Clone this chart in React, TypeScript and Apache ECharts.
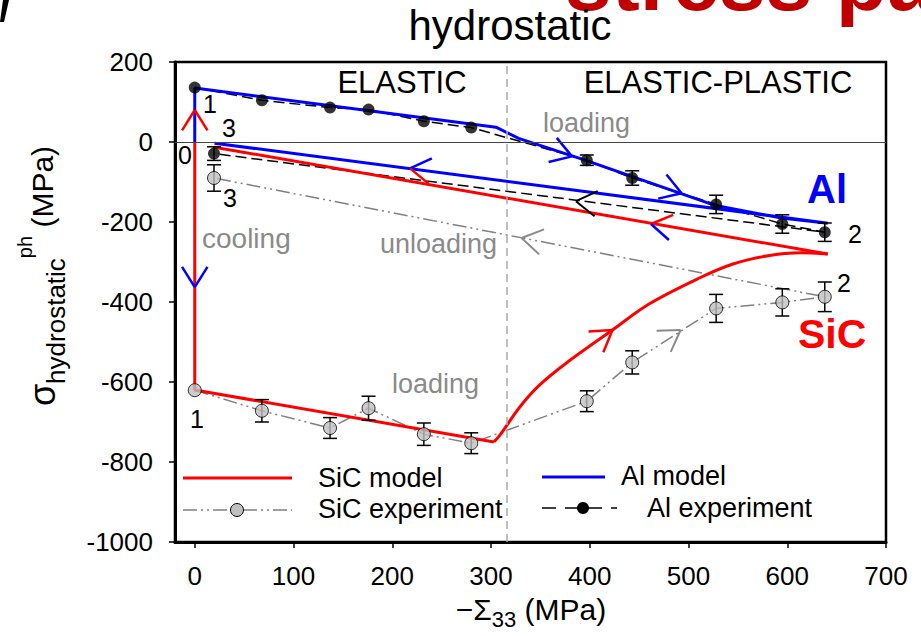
import React, { useEffect, useRef } from 'react';
import * as echarts from 'echarts';

const FONT = '"Liberation Sans", Arial, Helvetica, sans-serif';

// ---- axes ----
const xTicks = [0, 100, 200, 300, 400, 500, 600, 700];
const yTicks = [-1000, -800, -600, -400, -200, 0, 200];
const elasticLimitX = 316;

// ---- experiments (loading 1 -> 2, then unloading to 3) ----
const expX = [0, 68, 137, 176, 232, 280, 397, 443, 528, 595, 638, 19.5];
const alExpY = [136, 104.5, 86, 81, 52, 36, -45.5, -90, -156, -205, -225.5, -29];
const alExpErr = [0, 0, 0, 0, 0, 0, 13, 18, 23, 23, 23, 17];
const sicExpY = [-620.5, -672, -715, -665.5, -730.5, -753, -648, -551, -416, -401, -387, -90];
const sicExpErr = [0, 28, 26, 30, 28, 26, 26, 29, 35, 34, 37, 33];

// ---- models (cooling 0 -> 1, loading 1 -> 2, unloading 2 -> 3) ----
const alModelX = [0, 0, 305, 328, 396, 526, 594, 641, 20];
const alModelY = [0, 135, 37, 9, -46, -158, -190, -203, -3];
// SiC model: cooling + elastic loading
const sicModelX = [0, 0, 303];
const sicModelY = [0, -620, -750];
// SiC model: elastic-plastic loading (curved)
const sicPlasticX = [303, 309, 329, 349, 376, 423, 460, 511, 545, 579, 613, 641];
const sicPlasticY = [-750, -733, -663, -608, -553, -470, -405, -340, -305, -285, -277, -280];
// SiC model: unloading
const sicUnloadX = [641, 20];
const sicUnloadY = [-280, -13];

// ---- path direction arrows: apex and a point behind it on the path ----
const arrowApex = [[0, 80], [0, -363], [382, -36], [493, -128], [218, -66], [462, -205], [386, -148], [331, -240], [492, -470], [423, -470]];
const arrowFrom = [[0, 0], [0, -200], [328, 9], [396, -46], [641, -203], [641, -280], [638, -225.5], [638, -387], [443, -551], [376, -553]];

const RED = '#ff0000';
const BLUE = '#0000ff';
const GRAY = '#8a8a8a';
const arrowColors = [
  [RED, RED], [BLUE, BLUE], [BLUE, BLUE], [BLUE, BLUE], [BLUE, RED],
  [RED, BLUE], ['#000', '#000'], [GRAY, GRAY], [GRAY, GRAY], [RED, RED],
];

function txt(text: string, x: number, y: number, fontSize: number, fill: string, align = 'left', bold = false) {
  return {
    type: 'text', x, y, silent: true, z: 100,
    style: {
      text, fontSize, fontFamily: FONT, fill, fontWeight: bold ? 'bold' : 'normal',
      align, textAlign: align, verticalAlign: 'middle', textVerticalAlign: 'middle',
    },
  };
}

export default function App() {
  const ref = useRef<HTMLDivElement>(null);
  useEffect(() => {
    if (!ref.current) return;
    const chart = echarts.init(ref.current, null, { renderer: 'svg' });

    const pair = (xs: number[], ys: number[]) => xs.map((x, i) => [x, ys[i]]);
    const errData = [
      ...expX.map((x, i) => [x, alExpY[i], alExpErr[i]]),
      ...expX.map((x, i) => [x, sicExpY[i], sicExpErr[i]]),
    ];
    const arrowData = arrowApex.map((p, i) => [p[0], p[1], arrowFrom[i][0], arrowFrom[i][1]]);
    const redLine = { color: RED, width: 3 };

    const option: any = {
      animation: false,
      backgroundColor: '#ffffff',
      grid: { left: 175, top: 62, width: 711, height: 480, show: true, borderColor: '#000', borderWidth: 2.5, backgroundColor: 'transparent' },
      xAxis: {
        type: 'value', min: -20, max: 700,
        axisLine: { onZero: false, lineStyle: { color: '#000', width: 3 } },
        axisTick: { show: true, customValues: xTicks, length: 6, lineStyle: { color: '#000', width: 1.5 } },
        axisLabel: { customValues: xTicks, margin: 21, fontSize: 26, color: '#000', fontFamily: FONT, formatter: (v: number) => String(v) },
        splitLine: { show: false },
      },
      yAxis: {
        type: 'value', min: -1000, max: 200, interval: 200,
        axisLine: { onZero: false, lineStyle: { color: '#000', width: 3 } },
        axisTick: { show: true, customValues: yTicks, length: 6, lineStyle: { color: '#000', width: 1.5 } },
        axisLabel: { customValues: yTicks, margin: 22, fontSize: 26, color: '#000', fontFamily: FONT, formatter: (v: number) => String(v) },
        splitLine: { show: false },
      },
      series: [
        {
          name: 'SiC experiment', type: 'line', z: 2, data: pair(expX, sicExpY), symbol: 'none',
          lineStyle: { color: '#808080', width: 1.5, type: [14, 4, 2, 4, 2, 4] },
          markLine: {
            silent: true, symbol: ['none', 'none'], label: { show: false },
            data: [
              { yAxis: 0, lineStyle: { color: '#444', width: 1, type: 'solid' } },
              { xAxis: elasticLimitX, lineStyle: { color: '#aaaaaa', width: 1.5, type: [8, 5] } },
            ],
          },
        },
        {
          name: 'Al experiment', type: 'line', z: 2, data: pair(expX, alExpY), symbol: 'none',
          lineStyle: { color: '#000', width: 1.5, type: [11, 5] },
        },
        { name: 'SiC model', type: 'line', z: 3, data: pair(sicModelX, sicModelY), symbol: 'none', lineStyle: redLine },
        { name: 'SiC model', type: 'line', z: 3, data: pair(sicPlasticX, sicPlasticY), symbol: 'none', smooth: 0.35, lineStyle: redLine },
        { name: 'SiC model', type: 'line', z: 3, data: pair(sicUnloadX, sicUnloadY), symbol: 'none', lineStyle: redLine },
        {
          name: 'Al model', type: 'line', z: 3, data: pair(alModelX, alModelY), symbol: 'none',
          lineStyle: { color: BLUE, width: 3 },
        },
        {
          name: 'arrows', type: 'custom', z: 4, data: arrowData, silent: true,
          renderItem: (params: any, api: any) => {
            const i = params.dataIndex;
            const a = api.coord([api.value(0), api.value(1)]);
            const f = api.coord([api.value(2), api.value(3)]);
            let bx = f[0] - a[0], by = f[1] - a[1];
            const L = Math.hypot(bx, by) || 1; bx /= L; by /= L;
            const th = (32 * Math.PI) / 180, len = 24;
            const arm = (s: number) => [
              a[0] + len * (Math.cos(s * th) * bx - Math.sin(s * th) * by),
              a[1] + len * (Math.sin(s * th) * bx + Math.cos(s * th) * by),
            ];
            const m = arm(-1), p = arm(1);
            const c = arrowColors[i];
            const w = c[0] === GRAY || c[0] === '#000' ? 2 : 2.5;
            return {
              type: 'group', children: [
                { type: 'line', shape: { x1: a[0], y1: a[1], x2: m[0], y2: m[1] }, style: { stroke: c[0], lineWidth: w } },
                { type: 'line', shape: { x1: a[0], y1: a[1], x2: p[0], y2: p[1] }, style: { stroke: c[1], lineWidth: w } },
              ],
            };
          },
        },
        {
          name: 'error bars', type: 'custom', z: 5, data: errData, silent: true,
          renderItem: (params: any, api: any) => {
            const x = api.value(0), y = api.value(1), e = api.value(2);
            if (!e) return { type: 'group', children: [] };
            const t = api.coord([x, y + e]);
            const b = api.coord([x, y - e]);
            const cap = 7;
            const st = { stroke: '#000', lineWidth: 1.5 };
            return {
              type: 'group', children: [
                { type: 'line', shape: { x1: t[0], y1: t[1], x2: b[0], y2: b[1] }, style: st },
                { type: 'line', shape: { x1: t[0] - cap, y1: t[1], x2: t[0] + cap, y2: t[1] }, style: st },
                { type: 'line', shape: { x1: b[0] - cap, y1: b[1], x2: b[0] + cap, y2: b[1] }, style: st },
              ],
            };
          },
        },
        {
          name: 'SiC experiment points', type: 'scatter', z: 6, data: pair(expX, sicExpY), symbol: 'circle', symbolSize: 13,
          itemStyle: { color: '#bfbfbf', borderColor: '#000', borderWidth: 1 },
        },
        {
          name: 'Al experiment points', type: 'scatter', z: 6, data: pair(expX, alExpY), symbol: 'circle', symbolSize: 12,
          itemStyle: { color: '#000' },
        },
      ],
      graphic: [
        // cropped slide fragments
        { type: 'polygon', silent: true, shape: { points: [[3, 0], [9, 0], [4, 22], [0, 22]] }, style: { fill: '#000' } },
        txt('stress path', 565, -19, 84, '#c00000', 'left', true),
        txt('hydrostatic', 510, 25, 42, '#000', 'center'),
        // regions
        txt('ELASTIC', 402, 82, 31, '#000', 'center'),
        txt('ELASTIC-PLASTIC', 718, 82, 31, '#000', 'center'),
        // path annotations
        txt('loading', 543, 123, 27, GRAY),
        txt('cooling', 202, 238, 28, GRAY),
        txt('unloading', 380, 244, 27, GRAY),
        txt('loading', 392, 384, 27, GRAY),
        txt('1', 203, 104, 25, '#000'),
        txt('3', 222, 128, 25, '#000'),
        txt('0', 178, 155, 25, '#000'),
        txt('3', 223, 198, 25, '#000'),
        txt('1', 190, 419, 25, '#000'),
        txt('2', 848, 234, 25, '#000'),
        txt('2', 837, 283, 25, '#000'),
        txt('Al', 807, 189, 40, BLUE, 'left', true),
        txt('SiC', 798, 334, 41, RED, 'left', true),
        // legend
        { type: 'line', silent: true, shape: { x1: 183, y1: 478, x2: 292, y2: 478 }, style: { stroke: RED, lineWidth: 3 } },
        txt('SiC model', 318, 478, 27, '#000'),
        { type: 'line', silent: true, shape: { x1: 183, y1: 510, x2: 292, y2: 510 }, style: { stroke: '#808080', lineWidth: 1.5, lineDash: [14, 4, 2, 4, 2, 4] } },
        { type: 'circle', silent: true, shape: { cx: 237, cy: 510, r: 6.5 }, style: { fill: '#bfbfbf', stroke: '#000', lineWidth: 1 } },
        txt('SiC experiment', 318, 509, 27, '#000'),
        { type: 'line', silent: true, shape: { x1: 542, y1: 477, x2: 605, y2: 477 }, style: { stroke: BLUE, lineWidth: 3 } },
        txt('Al model', 621, 476, 27, '#000'),
        { type: 'line', silent: true, shape: { x1: 542, y1: 508, x2: 617, y2: 508 }, style: { stroke: '#000', lineWidth: 1.5, lineDash: [14, 9] } },
        { type: 'circle', silent: true, shape: { cx: 583, cy: 508, r: 6 }, style: { fill: '#000' } },
        txt('Al experiment', 647, 508, 27, '#000'),
        // axis titles
        {
          type: 'text', x: 42, y: 276, rotation: Math.PI / 2, silent: true, z: 100,
          style: {
            text: '{s|σ}{sub|hydrostatic}{sup|ph}{u| (MPa)}',
            fontFamily: FONT, fill: '#000', align: 'center', textAlign: 'center', verticalAlign: 'middle', textVerticalAlign: 'middle',
            rich: {
              s: { fontSize: 36, lineHeight: 54, verticalAlign: 'middle', fontFamily: FONT, fill: '#000' },
              sub: { fontSize: 26, lineHeight: 26, verticalAlign: 'bottom', fontFamily: FONT, fill: '#000' },
              sup: { fontSize: 20, lineHeight: 44, verticalAlign: 'top', fontFamily: FONT, fill: '#000' },
              u: { fontSize: 30, lineHeight: 54, verticalAlign: 'middle', fontFamily: FONT, fill: '#000' },
            },
          },
        },
        {
          type: 'text', x: 531, y: 609, silent: true, z: 100,
          style: {
            text: '{m|−Σ}{sub|33}{m| (MPa)}',
            fontFamily: FONT, fill: '#000', align: 'center', textAlign: 'center', verticalAlign: 'middle', textVerticalAlign: 'middle',
            rich: {
              m: { fontSize: 30, lineHeight: 42, verticalAlign: 'middle', fontFamily: FONT, fill: '#000' },
              sub: { fontSize: 22, lineHeight: 22, verticalAlign: 'bottom', fontFamily: FONT, fill: '#000' },
            },
          },
        },
      ],
    };

    chart.setOption(option);
    return () => chart.dispose();
  }, []);

  return (
    <div
      ref={ref}
      style={{ position: 'absolute', left: 0, top: 0, width: 921, height: 636, background: '#fff' }}
    />
  );
}
